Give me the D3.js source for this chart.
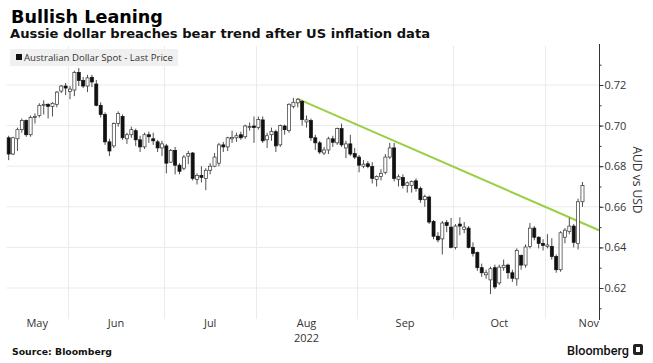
<!DOCTYPE html>
<html>
<head>
<meta charset="utf-8">
<script src="https://cdn.jsdelivr.net/npm/d3@7"></script>
<style>
  body { margin: 0; background: #fff; }
  svg { display: block; }
</style>
</head>
<body>
<svg id="chart" width="653" height="363"></svg>
<script>
// trading days, 12 May - 11 Nov 2022
const dates = [
  "2022-05-12","2022-05-13","2022-05-16","2022-05-17","2022-05-18","2022-05-19","2022-05-20","2022-05-23","2022-05-24","2022-05-25","2022-05-26","2022-05-27","2022-05-30","2022-05-31",
  "2022-06-01","2022-06-02","2022-06-03","2022-06-06","2022-06-07","2022-06-08","2022-06-09","2022-06-10","2022-06-13","2022-06-14","2022-06-15","2022-06-16","2022-06-17","2022-06-20","2022-06-21","2022-06-22","2022-06-23","2022-06-24","2022-06-27","2022-06-28","2022-06-29","2022-06-30",
  "2022-07-01","2022-07-04","2022-07-05","2022-07-06","2022-07-07","2022-07-08","2022-07-11","2022-07-12","2022-07-13","2022-07-14","2022-07-15","2022-07-18","2022-07-19","2022-07-20","2022-07-21","2022-07-22","2022-07-25","2022-07-26","2022-07-27","2022-07-28","2022-07-29",
  "2022-08-01","2022-08-02","2022-08-03","2022-08-04","2022-08-05","2022-08-08","2022-08-09","2022-08-10","2022-08-11","2022-08-12","2022-08-15","2022-08-16","2022-08-17","2022-08-18","2022-08-19","2022-08-22","2022-08-23","2022-08-24","2022-08-25","2022-08-26","2022-08-29","2022-08-30","2022-08-31",
  "2022-09-01","2022-09-02","2022-09-05","2022-09-06","2022-09-07","2022-09-08","2022-09-09","2022-09-12","2022-09-13","2022-09-14","2022-09-15","2022-09-16","2022-09-19","2022-09-20","2022-09-21","2022-09-22","2022-09-23","2022-09-26","2022-09-27","2022-09-28","2022-09-29","2022-09-30",
  "2022-10-03","2022-10-04","2022-10-05","2022-10-06","2022-10-07","2022-10-10","2022-10-11","2022-10-12","2022-10-13","2022-10-14","2022-10-17","2022-10-18","2022-10-19","2022-10-20","2022-10-21","2022-10-24","2022-10-25","2022-10-26","2022-10-27","2022-10-28","2022-10-31",
  "2022-11-01","2022-11-02","2022-11-03","2022-11-04","2022-11-07","2022-11-08","2022-11-09","2022-11-10","2022-11-11"
];

const open = [
  0.6940,0.6860,0.6935,0.6980,0.7025,0.6955,0.7040,0.7050,0.7100,0.7105,0.7095,0.7105,0.7170,0.7195,
  0.7168,0.7175,0.7262,0.7222,0.7195,0.7238,0.7205,0.7100,0.7055,0.6920,0.6900,0.7010,0.7045,0.6935,0.6955,0.6975,0.6930,0.6895,0.6955,0.6935,0.6920,0.6890,
  0.6900,0.6820,0.6878,0.6805,0.6790,0.6850,0.6865,0.6735,0.6755,0.6740,0.6780,0.6800,0.6815,0.6905,0.6895,0.6935,0.6940,0.6955,0.6945,0.6990,0.6998,
  0.6990,0.7028,0.6930,0.6955,0.6970,0.6905,0.6998,0.6975,0.7095,0.7112,0.7118,0.7018,0.7025,0.6940,0.6915,0.6865,0.6880,0.6935,0.6915,0.6985,0.6890,0.6910,0.6862,
  0.6845,0.6800,0.6812,0.6798,0.6735,0.6750,0.6770,0.6845,0.6890,0.6735,0.6745,0.6705,0.6705,0.6728,0.6690,0.6635,0.6648,0.6528,0.6455,0.6442,0.6522,0.6500,
  0.6400,0.6515,0.6488,0.6495,0.6400,0.6375,0.6300,0.6265,0.6240,0.6300,0.6225,0.6300,0.6313,0.6275,0.6245,0.6360,0.6313,0.6405,0.6495,0.6450,0.6420,
  0.6405,0.6405,0.6355,0.6290,0.6450,0.6478,0.6505,0.6420,0.6625
];
const high = [
  0.6950,0.6945,0.6990,0.7035,0.7030,0.7050,0.7060,0.7110,0.7125,0.7110,0.7115,0.7170,0.7200,0.7210,
  0.7195,0.7270,0.7283,0.7240,0.7250,0.7250,0.7225,0.7115,0.7065,0.6935,0.7015,0.7070,0.7055,0.6965,0.6995,0.6985,0.6950,0.6965,0.6970,0.6965,0.6930,0.6925,
  0.6910,0.6885,0.6895,0.6815,0.6855,0.6875,0.6870,0.6765,0.6800,0.6790,0.6815,0.6865,0.6915,0.6920,0.6945,0.6975,0.6965,0.6970,0.7005,0.7015,0.7045,
  0.7045,0.7045,0.6965,0.6990,0.6980,0.7005,0.7005,0.7110,0.7137,0.7135,0.7125,0.7050,0.7035,0.6955,0.6925,0.6895,0.6945,0.6950,0.6990,0.7010,0.6925,0.6955,0.6890,
  0.6855,0.6830,0.6825,0.6820,0.6755,0.6785,0.6860,0.6915,0.6915,0.6760,0.6760,0.6725,0.6730,0.6740,0.6700,0.6660,0.6655,0.6535,0.6475,0.6530,0.6535,0.6545,
  0.6515,0.6548,0.6525,0.6505,0.6425,0.6380,0.6320,0.6290,0.6305,0.6315,0.6315,0.6340,0.6320,0.6290,0.6395,0.6365,0.6415,0.6520,0.6505,0.6455,0.6440,
  0.6465,0.6445,0.6365,0.6480,0.6495,0.6545,0.6515,0.6640,0.6722
];
const low = [
  0.6830,0.6855,0.6875,0.6965,0.6945,0.6945,0.7010,0.7040,0.7055,0.7035,0.7045,0.7090,0.7160,0.7150,
  0.7130,0.7145,0.7195,0.7185,0.7165,0.7190,0.7095,0.7040,0.6905,0.6850,0.6890,0.6995,0.6930,0.6910,0.6940,0.6900,0.6870,0.6885,0.6915,0.6905,0.6870,0.6850,
  0.6765,0.6815,0.6760,0.6760,0.6780,0.6810,0.6730,0.6710,0.6720,0.6682,0.6760,0.6795,0.6800,0.6870,0.6875,0.6915,0.6920,0.6930,0.6935,0.6975,0.6915,
  0.6980,0.6915,0.6890,0.6925,0.6870,0.6895,0.6955,0.6965,0.7085,0.7090,0.7000,0.6990,0.6925,0.6880,0.6860,0.6855,0.6860,0.6895,0.6905,0.6895,0.6840,0.6850,0.6835,
  0.6770,0.6790,0.6790,0.6715,0.6700,0.6730,0.6760,0.6835,0.6725,0.6700,0.6690,0.6670,0.6670,0.6675,0.6620,0.6600,0.6515,0.6440,0.6425,0.6365,0.6475,0.6395,
  0.6390,0.6460,0.6470,0.6395,0.6355,0.6285,0.6255,0.6245,0.6170,0.6195,0.6215,0.6285,0.6245,0.6230,0.6212,0.6290,0.6300,0.6395,0.6435,0.6395,0.6385,
  0.6395,0.6340,0.6275,0.6280,0.6420,0.6465,0.6400,0.6390,0.6600
];
const close = [
  0.6860,0.6940,0.6980,0.7025,0.6955,0.7040,0.7045,0.7100,0.7105,0.7095,0.7110,0.7165,0.7195,0.7185,
  0.7180,0.7262,0.7222,0.7195,0.7235,0.7215,0.7100,0.7055,0.6920,0.6875,0.7010,0.7060,0.6940,0.6955,0.6980,0.6930,0.6895,0.6955,0.6945,0.6925,0.6890,0.6910,
  0.6815,0.6878,0.6805,0.6775,0.6845,0.6862,0.6740,0.6755,0.6745,0.6780,0.6800,0.6845,0.6905,0.6895,0.6940,0.6942,0.6950,0.6940,0.6998,0.6995,0.6990,
  0.7030,0.6925,0.6950,0.6972,0.6900,0.7000,0.6980,0.7105,0.7115,0.7130,0.7030,0.7028,0.6940,0.6915,0.6870,0.6880,0.6935,0.6918,0.6985,0.6905,0.6910,0.6860,0.6845,
  0.6805,0.6810,0.6798,0.6740,0.6750,0.6765,0.6845,0.6890,0.6740,0.6748,0.6705,0.6718,0.6725,0.6690,0.6635,0.6650,0.6525,0.6455,0.6437,0.6520,0.6508,0.6400,
  0.6505,0.6505,0.6500,0.6400,0.6370,0.6300,0.6275,0.6275,0.6295,0.6205,0.6303,0.6312,0.6275,0.6248,0.6385,0.6313,0.6402,0.6495,0.6450,0.6420,0.6410,
  0.6412,0.6355,0.6290,0.6472,0.6485,0.6505,0.6425,0.6625,0.6705
];

// bear trend line through two anchor points, extended to the axis
const trendDates = ["2022-08-12", "2022-11-11"];
const trendValues = [0.7132, 0.6520];

const yTicks = [0.62, 0.64, 0.66, 0.68, 0.70, 0.72];
const yMinorTicks = [0.61, 0.62, 0.63, 0.64, 0.65, 0.66, 0.67, 0.68, 0.69, 0.70, 0.71, 0.72, 0.73];
const monthNames = ["Jan","Feb","Mar","Apr","May","Jun","Jul","Aug","Sep","Oct","Nov","Dec"];
const monthDays = {"2022-05": 22, "2022-11": 22}; // weekdays in partial months

const svg = d3.select("#chart");
const font = "'Open Sans', 'DejaVu Sans', sans-serif";
const boldFont = "'DejaVu Sans', sans-serif";

const plotLeft = 6.5, slot = 4.38;
const axisX = 599, plotTop = 46, plotBottom = 319;

const x = d3.scaleLinear()
    .domain([-0.5, dates.length - 0.5])
    .range([plotLeft, plotLeft + dates.length * slot]);
const y = d3.scaleLinear()
    .domain([0.62, 0.72])
    .range([288, 85]);

// fit text width to what the picture shows
function fitWidth(t, w) {
    const len = t.node().getComputedTextLength();
    const fs = parseFloat(t.attr("font-size"));
    t.attr("font-size", (fs * w / len).toFixed(2));
}

// month boundaries
const monthStarts = [];
dates.forEach(function(d, i) {
    if (i == 0 || d.slice(0, 7) != dates[i - 1].slice(0, 7)) monthStarts.push(i);
});

// gridlines
const grid = svg.append("g");
grid.selectAll("line.h")
    .data(yTicks)
    .enter().append("line")
    .attr("x1", plotLeft).attr("x2", axisX)
    .attr("y1", d => y(d)).attr("y2", d => y(d))
    .attr("stroke", "#ebebeb").attr("stroke-width", 1);
grid.selectAll("line.v")
    .data(monthStarts.slice(1))
    .enter().append("line")
    .attr("x1", d => Math.round(x(d - 0.5)) + 0.5).attr("x2", d => Math.round(x(d - 0.5)) + 0.5)
    .attr("y1", plotTop).attr("y2", plotBottom)
    .attr("stroke", "#ebebeb").attr("stroke-width", 1);

// legend
const legend = svg.append("g");
legend.append("rect")
    .attr("x", 10).attr("y", 49).attr("width", 168).attr("height", 17)
    .attr("fill", "#f0f0f0");
legend.append("rect")
    .attr("x", 16).attr("y", 54).attr("width", 6).attr("height", 6)
    .attr("fill", "#111");
const lt = legend.append("text")
    .attr("x", 24).attr("y", 61)
    .attr("font-family", font).attr("font-size", 10).attr("fill", "#333")
    .text("Australian Dollar Spot - Last Price");
fitWidth(lt, 149);

// trend line
const t0 = dates.indexOf(trendDates[0]), t1 = dates.indexOf(trendDates[1]);
const slope = (trendValues[1] - trendValues[0]) / (t1 - t0);
const tEnd = x.invert(axisX);
svg.append("line")
    .attr("x1", x(t0)).attr("y1", y(trendValues[0]))
    .attr("x2", x(tEnd)).attr("y2", y(trendValues[0] + slope * (tEnd - t0)))
    .attr("stroke", "#9bcf45").attr("stroke-width", 2);

// candles
const idx = d3.range(dates.length);
const bodyW = slot * 0.7;
const candles = svg.append("g");
candles.selectAll("line")
    .data(idx)
    .enter().append("line")
    .attr("x1", i => x(i)).attr("x2", i => x(i))
    .attr("y1", i => y(high[i])).attr("y2", i => y(low[i]))
    .attr("stroke", "#222").attr("stroke-width", 0.8);
candles.selectAll("rect")
    .data(idx)
    .enter().append("rect")
    .attr("x", i => x(i) - bodyW / 2)
    .attr("width", bodyW)
    .attr("y", i => y(Math.max(open[i], close[i])))
    .attr("height", i => Math.max(0.8, Math.abs(y(open[i]) - y(close[i]))))
    .attr("fill", i => close[i] >= open[i] ? "#fff" : "#111")
    .attr("stroke", i => close[i] >= open[i] ? "#333" : "#111")
    .attr("stroke-width", 0.7);

// y axis on the right
svg.append("line")
    .attr("x1", axisX + 0.5).attr("x2", axisX + 0.5)
    .attr("y1", plotTop - 2).attr("y2", plotBottom + 1)
    .attr("stroke", "#333").attr("stroke-width", 1);
const yAxis = svg.append("g")
    .attr("transform", "translate(" + (axisX + 0.5) + ",0)")
    .call(d3.axisRight(y).tickValues(yTicks).tickSize(4).tickPadding(1).tickFormat(d3.format(".2f")));
yAxis.select(".domain").remove();
yAxis.selectAll("line").attr("stroke", "#333");
yAxis.selectAll("text").attr("font-family", font).attr("font-size", 11).attr("fill", "#333");
const yMinor = svg.append("g")
    .attr("transform", "translate(" + (axisX + 0.5) + ",0)")
    .call(d3.axisRight(y).tickValues(yMinorTicks).tickSize(2).tickFormat(""));
yMinor.select(".domain").remove();
yMinor.selectAll("line").attr("stroke", "#333");

svg.append("text")
    .attr("transform", "translate(633,180) rotate(90)")
    .attr("text-anchor", "middle")
    .attr("font-family", font).attr("font-size", 12).attr("fill", "#333")
    .text("AUD vs USD");

// month labels, centred on each month and kept inside the axis
const xLabels = svg.append("g");
monthStarts.forEach(function(s, k) {
    const key = dates[s].slice(0, 7);
    const m = +key.slice(5, 7) - 1;
    const left = x(s - 0.5);
    let right;
    if (k + 1 < monthStarts.length) right = x(monthStarts[k + 1] - 0.5);
    else right = x(s - 0.5 + monthDays[key]);
    let cx = (left + right) / 2;
    const t = xLabels.append("text")
        .attr("y", 327).attr("text-anchor", "middle")
        .attr("font-family", font).attr("font-size", 11).attr("fill", "#333")
        .text(monthNames[m]);
    const half = t.node().getComputedTextLength() / 2;
    cx = Math.min(cx, axisX - half);
    t.attr("x", cx);
    if (m == 7) {
        xLabels.append("text")
            .attr("x", cx).attr("y", 342).attr("text-anchor", "middle")
            .attr("font-family", font).attr("font-size", 11).attr("fill", "#333")
            .text("2022");
    }
});

// titles
const title = svg.append("text")
    .attr("x", 11).attr("y", 22.5)
    .attr("font-family", boldFont).attr("font-weight", "bold").attr("font-size", 18).attr("fill", "#000")
    .text("Bullish Leaning");
fitWidth(title, 152);
const sub = svg.append("text")
    .attr("x", 10).attr("y", 38)
    .attr("font-family", boldFont).attr("font-weight", "bold").attr("font-size", 13).attr("fill", "#111")
    .text("Aussie dollar breaches bear trend after US inflation data");
fitWidth(sub, 420);

// footer
const src = svg.append("text")
    .attr("x", 12).attr("y", 355)
    .attr("font-family", boldFont).attr("font-weight", "bold").attr("font-size", 10).attr("fill", "#111")
    .text("Source: Bloomberg");
fitWidth(src, 100);
const bb = svg.append("text")
    .attr("x", 629).attr("y", 355).attr("text-anchor", "end")
    .attr("font-family", "'Roboto', 'DejaVu Sans', sans-serif").attr("font-weight", "500").attr("font-size", 13).attr("fill", "#111")
    .text("Bloomberg");
fitWidth(bb, 62);
svg.append("rect")
    .attr("x", 633).attr("y", 344).attr("width", 10).attr("height", 11).attr("rx", 2)
    .attr("fill", "#222");
svg.append("rect")
    .attr("x", 636).attr("y", 347).attr("width", 4).attr("height", 5)
    .attr("fill", "#fff");
</script>
</body>
</html>
